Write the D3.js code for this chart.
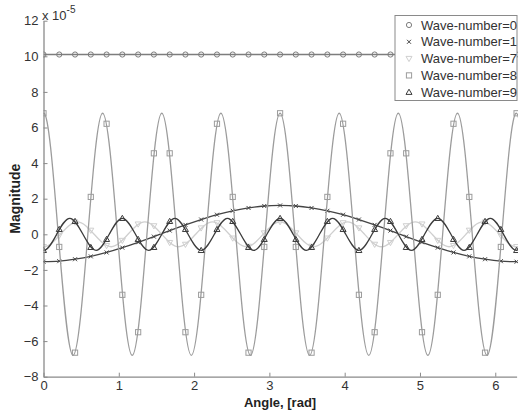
<!DOCTYPE html>
<html>
<head>
<meta charset="utf-8">
<script src="https://cdn.jsdelivr.net/npm/d3@7"></script>
<style>
  body { margin: 0; background: #fff; }
  svg { display: block; font-family: "Liberation Sans", Arial, sans-serif; }
</style>
</head>
<body>
<div id="chart"></div>
<script>
// sample angles where the markers sit
var markAngles = [0, 0.209, 0.419, 0.628, 0.838, 1.047, 1.257, 1.466, 1.676, 1.885, 2.094,
  2.304, 2.513, 2.723, 2.932, 3.142, 3.351, 3.560, 3.770, 3.979, 4.189,
  4.398, 4.608, 4.817, 5.027, 5.236, 5.445, 5.655, 5.864, 6.074, 6.283];

var mark0 = [10.1, 10.1, 10.1, 10.1, 10.1, 10.1, 10.1, 10.1, 10.1, 10.1, 10.1,
  10.1, 10.1, 10.1, 10.1, 10.1, 10.1, 10.1, 10.1, 10.1, 10.1,
  10.1, 10.1, 10.1, 10.1, 10.1, 10.1, 10.1, 10.1, 10.1, 10.1];
var mark1 = [-1.54, -1.51, -1.40, -1.24, -1.02, -0.75, -0.45, -0.13, 0.21, 0.53, 0.83,
  1.10, 1.32, 1.48, 1.59, 1.62, 1.59, 1.48, 1.32, 1.10, 0.83,
  0.53, 0.21, -0.13, -0.45, -0.75, -1.02, -1.24, -1.40, -1.51, -1.54];
var mark7 = [-0.70, -0.07, 0.68, 0.22, -0.64, -0.35, 0.57, 0.47, -0.47, -0.57, 0.35,
  0.64, -0.22, -0.68, 0.07, 0.70, 0.07, -0.68, -0.22, 0.64, 0.35,
  -0.57, -0.47, 0.47, 0.57, -0.35, -0.64, 0.22, 0.68, -0.07, -0.70];
var mark8 = [6.8, -0.71, -6.65, 2.10, 6.21, -3.40, -5.50, 4.55, 4.55, -5.50, -3.40,
  6.21, 2.10, -6.65, -0.71, 6.8, -0.71, -6.65, 2.10, 6.21, -3.40,
  -5.50, 4.55, 4.55, -5.50, -3.40, 6.21, 2.10, -6.65, -0.71, 6.8];
var mark9 = [-0.9, 0.28, 0.73, -0.73, -0.28, 0.9, -0.28, -0.73, 0.73, 0.28, -0.9,
  0.28, 0.73, -0.73, -0.28, 0.9, -0.28, -0.73, 0.73, 0.28, -0.9,
  0.28, 0.73, -0.73, -0.28, 0.9, -0.28, -0.73, 0.73, 0.28, -0.9];

// the fast waves: peaks and zero crossings (run a little past the axes)
var line7Angles = [-0.449, -0.224, 0, 0.224, 0.449, 0.673, 0.898, 1.122, 1.346, 1.571, 1.795,
  2.020, 2.244, 2.468, 2.693, 2.917, 3.142, 3.366, 3.590, 3.815, 4.039, 4.264,
  4.488, 4.712, 4.937, 5.161, 5.386, 5.610, 5.834, 6.059, 6.283, 6.508, 6.732];
var line7 = [0.7, 0, -0.7, 0, 0.7, 0, -0.7, 0, 0.7, 0, -0.7,
  0, 0.7, 0, -0.7, 0, 0.7, 0, -0.7, 0, 0.7, 0,
  -0.7, 0, 0.7, 0, -0.7, 0, 0.7, 0, -0.7, 0, 0.7];

var line8Angles = [-0.393, -0.196, 0, 0.196, 0.393, 0.589, 0.785, 0.982, 1.178, 1.374, 1.571,
  1.767, 1.963, 2.160, 2.356, 2.553, 2.749, 2.945, 3.142, 3.338, 3.534, 3.731,
  3.927, 4.123, 4.320, 4.516, 4.712, 4.909, 5.105, 5.301, 5.498, 5.694, 5.890,
  6.087, 6.283, 6.480, 6.676];
var line8 = [-6.8, 0, 6.8, 0, -6.8, 0, 6.8, 0, -6.8, 0, 6.8,
  0, -6.8, 0, 6.8, 0, -6.8, 0, 6.8, 0, -6.8, 0,
  6.8, 0, -6.8, 0, 6.8, 0, -6.8, 0, 6.8, 0, -6.8,
  0, 6.8, 0, -6.8];

var line9Angles = [-0.349, -0.175, 0, 0.175, 0.349, 0.524, 0.698, 0.873, 1.047, 1.222, 1.396,
  1.571, 1.745, 1.920, 2.094, 2.269, 2.443, 2.618, 2.793, 2.967, 3.142, 3.316,
  3.491, 3.665, 3.840, 4.014, 4.189, 4.363, 4.538, 4.712, 4.887, 5.061, 5.236,
  5.411, 5.585, 5.760, 5.934, 6.109, 6.283, 6.458, 6.632];
var line9 = [0.9, 0, -0.9, 0, 0.9, 0, -0.9, 0, 0.9, 0, -0.9,
  0, 0.9, 0, -0.9, 0, 0.9, 0, -0.9, 0, 0.9, 0,
  -0.9, 0, 0.9, 0, -0.9, 0, 0.9, 0, -0.9, 0, 0.9,
  0, -0.9, 0, 0.9, 0, -0.9, 0, 0.9];

var legendLabels = ["Wave-number=0", "Wave-number=1", "Wave-number=7", "Wave-number=8", "Wave-number=9"];
var xTicks = [0, 1, 2, 3, 4, 5, 6];
var yTicks = [-8, -6, -4, -2, 0, 2, 4, 6, 8, 10, 12];

var svgWidth = 518, svgHeight = 418;
var margin = {top: 20.7, right: 1.4, bottom: 41.3, left: 43.5};
var width = svgWidth - margin.left - margin.right;
var height = svgHeight - margin.top - margin.bottom;

var svg = d3.select("#chart").append("svg")
  .attr("width", svgWidth)
  .attr("height", svgHeight);

var g = svg.append("g")
  .attr("transform", `translate(${margin.left},${margin.top})`);

var x = d3.scaleLinear().domain([0, 2 * Math.PI]).range([0, width]);
var y = d3.scaleLinear().domain([-8, 12]).range([height, 0]);

g.append("clipPath").attr("id", "plotclip")
  .append("rect").attr("x", 0).attr("y", -2).attr("width", width + 2).attr("height", height + 4);

var plot = g.append("g").attr("clip-path", "url(#plotclip)");

function pairs(xs, ys) {
  return xs.map(function(a, i) { return [a, ys[i]]; });
}

var line = d3.line()
  .x(function(d) { return x(d[0]); })
  .y(function(d) { return y(d[1]); })
  .curve(d3.curveNatural);

var series = [
  {name: legendLabels[0], line: pairs(markAngles, mark0), marks: pairs(markAngles, mark0), color: "#7d7d7d", symbol: "circle"},
  {name: legendLabels[1], line: pairs(markAngles, mark1), marks: pairs(markAngles, mark1), color: "#444", symbol: "cross"},
  {name: legendLabels[2], line: pairs(line7Angles, line7), marks: pairs(markAngles, mark7), color: "#cfcfcf", symbol: "tridown"},
  {name: legendLabels[3], line: pairs(line8Angles, line8), marks: pairs(markAngles, mark8), color: "#9c9c9c", symbol: "square"},
  {name: legendLabels[4], line: pairs(line9Angles, line9), marks: pairs(markAngles, mark9), color: "#3c3c3c", symbol: "triup"}
];

// marker shapes, MATLAB style (hollow)
function drawMarker(sel, symbol, color) {
  if (symbol === "circle") {
    sel.append("circle").attr("r", 2.6);
  } else if (symbol === "square") {
    sel.append("rect").attr("x", -2.6).attr("y", -2.6).attr("width", 5.2).attr("height", 5.2);
  } else if (symbol === "cross") {
    sel.append("path").attr("d", "M-2,-2L2,2M-2,2L2,-2");
  } else if (symbol === "triup") {
    sel.append("path").attr("d", "M0,-3L3,2.2L-3,2.2Z");
  } else if (symbol === "tridown") {
    sel.append("path").attr("d", "M0,3L3,-2.2L-3,-2.2Z");
  }
  sel.selectAll("*").attr("fill", "none").attr("stroke", color).attr("stroke-width", 1);
}

series.forEach(function(s) {
  plot.append("path")
    .datum(s.line)
    .attr("fill", "none")
    .attr("stroke", s.color)
    .attr("stroke-width", 1.3)
    .attr("d", line);

  plot.selectAll(null)
    .data(s.marks)
    .enter().append("g")
    .attr("transform", function(d) { return `translate(${x(d[0])},${y(d[1])})`; })
    .each(function() { drawMarker(d3.select(this), s.symbol, s.color); });
});

// axes, ticks pointing inward
var xAxis = g.append("g")
  .attr("transform", `translate(0,${height})`)
  .call(d3.axisBottom(x).tickValues(xTicks).tickFormat(d3.format("d"))
    .tickSizeInner(-4).tickSizeOuter(0).tickPadding(4));
var yAxis = g.append("g")
  .call(d3.axisLeft(y).tickValues(yTicks).tickFormat(d3.format("d"))
    .tickSizeInner(-4).tickSizeOuter(0).tickPadding(5));

[xAxis, yAxis].forEach(function(ax) {
  ax.select(".domain").attr("stroke", "#8a8a8a").attr("stroke-width", 1.3);
  ax.selectAll(".tick line").attr("stroke", "#8a8a8a");
  ax.selectAll(".tick text")
    .attr("fill", "#333")
    .attr("font-size", 13)
    .attr("font-family", "Liberation Sans, Arial, sans-serif");
});

// exponent label
var expo = svg.append("text")
  .attr("x", 42)
  .attr("y", 20)
  .attr("fill", "#333")
  .attr("font-size", 13)
  .text("x 10");
expo.append("tspan")
  .attr("dy", -7)
  .attr("font-size", 10)
  .text("-5");

// axis titles
svg.append("text")
  .attr("x", margin.left + width / 2)
  .attr("y", 407)
  .attr("text-anchor", "middle")
  .attr("font-size", 13)
  .attr("font-weight", "bold")
  .attr("fill", "#222")
  .text("Angle, [rad]");

svg.append("text")
  .attr("transform", `translate(20,${margin.top + height / 2}) rotate(-90)`)
  .attr("text-anchor", "middle")
  .attr("font-size", 14)
  .attr("font-weight", "bold")
  .attr("fill", "#222")
  .text("Magnitude");

// legend
var legend = svg.append("g").attr("transform", "translate(395,15.5)");
legend.append("rect")
  .attr("x", 0).attr("y", 0)
  .attr("width", 122).attr("height", 85)
  .attr("fill", "#fff")
  .attr("stroke", "#8a8a8a")
  .attr("stroke-width", 1);

series.forEach(function(s, i) {
  var row = legend.append("g").attr("transform", `translate(0,${9.5 + i * 16.8})`);
  var m = row.append("g").attr("transform", "translate(14,0)");
  drawMarker(m, s.symbol, s.color);
  row.append("text")
    .attr("x", 26)
    .attr("y", 4.6)
    .attr("font-size", 13)
    .attr("fill", "#333")
    .text(s.name);
});
</script>
</body>
</html>
